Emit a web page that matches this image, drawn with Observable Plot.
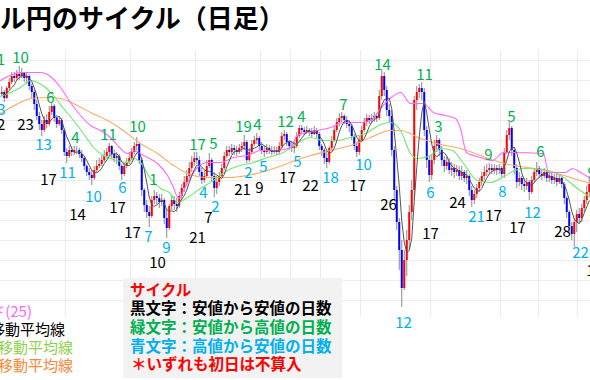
<!DOCTYPE html>
<html><head><meta charset="utf-8">
<script src="https://cdn.jsdelivr.net/npm/d3@7"></script>
<script src="https://cdn.jsdelivr.net/npm/@observablehq/plot@0.6"></script>
<style>
html,body{margin:0;padding:0;background:#fff;}
#wrap{position:relative;width:590px;height:380px;overflow:hidden;font-family:"Noto Sans CJK JP","Noto Sans",sans-serif;}
#wrap svg{position:absolute;left:0;top:0;}
.t{position:absolute;white-space:nowrap;line-height:1;}
</style></head><body><div id="wrap"></div>
<script>
// ---- data: daily candles (price in yen) ----
const firstOpen = 160.6;
const closes = [
160.8,160.2,161.2,161.8,162.4,162.2,162.6,162.4,162.7,162.2,
162.4,161.4,160.8,159.6,158.4,157.6,157.0,158.0,157.6,158.8,
159.4,158.2,157.6,158.0,157.0,154.8,154.4,155.0,154.8,155.0,
155.0,154.6,154.2,153.4,152.8,152.5,152.2,153.0,153.4,153.6,
154.0,154.4,154.8,155.4,154.6,154.2,154.4,153.4,152.6,153.4,
153.8,154.2,154.8,155.4,155.6,154.0,151.0,149.5,148.8,148.4,
150.0,150.4,150.2,149.8,150.0,148.2,147.2,149.4,150.0,149.6,
149.4,150.4,151.2,151.8,152.4,153.2,153.8,154.2,154.0,152.8,
152.0,152.4,153.4,154.0,152.4,151.2,151.8,152.4,153.2,154.4,
155.0,154.8,155.2,155.0,154.8,155.2,155.4,155.8,154.0,154.8,
155.6,156.0,156.2,155.4,155.0,154.8,155.2,155.0,154.8,155.0,
154.8,155.4,156.4,156.6,155.8,155.4,155.2,155.4,156.4,157.2,
157.0,156.8,157.0,156.8,156.6,157.0,156.6,155.4,155.0,154.2,
153.8,155.2,156.0,157.0,157.8,158.2,158.4,158.0,157.6,157.4,
156.4,155.4,154.8,156.0,157.0,157.8,158.2,158.0,158.2,158.4,
158.2,160.4,162.4,161.0,159.0,158.4,155.0,151.0,147.8,145.0,
141.2,144.0,146.0,148.8,151.0,160.0,160.8,161.2,160.8,157.0,
154.0,152.5,154.0,155.4,156.0,155.0,154.0,153.4,153.8,153.0,
153.2,152.8,153.0,152.4,152.8,152.2,152.4,151.0,150.0,150.6,
151.2,151.8,152.4,152.8,153.0,153.2,153.0,153.2,153.0,153.2,
152.6,154.8,156.5,157.2,155.0,153.2,151.8,152.2,151.6,151.4,
151.8,150.8,152.0,152.8,153.2,152.6,152.4,152.8,152.2,152.4,
152.0,152.2,151.8,152.2,151.6,150.2,148.8,147.4,146.6,147.8,
148.6,148.2,149.2,150.0,150.8,151.6];
const highs = [
161.4,161.0,161.4,162.2,162.8,162.8,163.0,163.4,163.2,162.8,
162.8,162.6,161.6,161.0,160.0,158.8,158.0,158.4,158.6,159.4,
159.7,159.6,158.5,158.4,158.2,157.2,155.2,155.4,155.4,155.4,
155.4,155.2,155.0,154.4,153.6,153.2,153.0,153.4,154.0,154.2,
154.5,155.0,155.2,155.7,155.5,155.0,154.8,154.6,153.6,153.8,
154.2,154.8,155.2,155.8,156.3,155.8,154.2,151.2,150.0,149.4,
150.4,151.0,150.8,150.6,150.6,150.2,149.0,149.6,150.4,150.4,
150.2,150.8,151.6,152.4,153.0,153.8,154.4,154.8,154.8,154.4,
153.2,153.0,154.0,154.7,154.2,152.8,152.4,152.8,153.6,154.8,
155.4,155.4,155.6,155.5,155.4,155.6,155.8,156.5,156.0,155.2,
156.0,156.4,156.7,156.4,155.8,155.4,155.6,155.5,155.4,155.4,
155.3,155.8,156.8,157.0,156.8,156.0,155.8,155.8,156.8,157.5,
157.5,157.3,157.4,157.2,157.2,157.4,157.2,156.8,155.6,155.2,
154.8,155.4,156.4,157.4,158.2,158.7,158.8,158.6,158.4,158.0,
157.6,156.6,155.8,156.4,157.4,158.2,158.6,158.5,158.6,158.8,
158.7,161.0,163.0,162.8,161.4,159.6,159.0,155.4,151.4,148.2,
146.0,145.0,147.0,149.5,152.0,160.4,161.4,161.6,161.8,161.2,
157.4,154.4,154.6,156.0,156.5,156.2,155.4,154.4,154.4,154.2,
153.8,153.6,153.5,153.4,153.4,153.0,153.0,152.6,151.4,151.0,
151.6,152.2,152.8,153.4,153.6,153.7,153.6,153.6,153.5,153.6,
153.4,155.2,157.0,157.8,157.4,155.2,153.6,152.8,152.4,152.2,
152.2,152.0,152.4,153.2,153.8,153.4,153.0,153.2,153.0,152.8,
152.8,152.6,152.6,152.6,152.4,151.8,150.4,149.0,147.8,148.2,
149.0,149.2,149.6,150.4,151.4,152.2];
const lows = [
160.4,159.8,160.1,161.0,161.6,161.8,162.0,162.0,162.2,161.8,
161.6,161.0,160.2,159.0,158.0,157.0,156.4,156.8,157.2,157.4,
158.5,157.8,157.2,157.4,156.6,154.4,153.7,154.2,154.4,154.5,
154.6,154.2,153.8,153.0,152.4,152.0,151.5,152.0,152.8,153.2,
153.4,153.8,154.2,154.4,154.2,153.8,153.6,153.0,152.0,152.4,
153.2,153.6,154.0,154.6,155.0,153.6,150.4,148.8,148.2,147.3,
148.2,149.6,149.6,149.2,149.4,147.6,146.2,147.0,149.0,149.0,
148.8,149.2,150.0,150.8,151.4,152.2,152.8,153.4,153.6,152.4,
151.6,151.7,152.2,153.2,151.8,150.3,150.6,151.4,152.2,153.0,
154.2,154.4,154.6,154.5,154.4,154.6,154.8,155.0,153.7,153.8,
154.6,155.4,155.6,155.0,154.6,154.3,154.6,154.6,154.5,154.6,
154.5,154.6,155.2,156.0,155.4,155.0,154.8,154.7,155.2,156.2,
156.6,156.5,156.6,156.4,156.3,156.5,156.2,155.0,154.4,153.6,
153.2,153.6,155.0,155.8,156.8,157.4,157.8,157.6,157.2,156.8,
156.0,155.0,154.3,154.5,155.8,156.8,157.4,157.6,157.7,157.8,
157.8,158.0,160.0,160.4,158.4,157.8,154.4,150.0,147.0,143.0,
139.3,141.0,142.4,145.0,148.0,150.0,159.0,160.2,160.0,156.4,
153.2,151.8,152.0,153.6,154.8,154.4,153.4,152.8,153.0,152.6,
152.4,152.2,152.4,152.0,152.0,151.8,151.6,150.4,149.3,149.6,
150.2,150.8,151.4,152.0,152.4,152.6,152.6,152.6,152.5,152.6,
152.2,152.2,154.6,156.0,154.4,152.6,151.2,151.4,151.0,150.8,
151.0,150.0,150.6,151.8,152.4,152.2,152.0,152.2,151.8,151.8,
151.6,151.6,151.4,151.6,151.2,149.6,148.2,146.8,146.0,145.3,
146.8,147.6,147.8,148.8,149.6,150.4];

// ---- indicator lines: [day, price] ----
const bandLine = [[-0.5,162.0],[7.5,162.8],[15.5,162.8],[19.5,162.4],[23.5,161.3],[27.5,159.8],[31.5,158.5],[35.5,157.5],[39.5,157.0],[43.5,156.3],[47.5,155.2],[50.3,154.7],[52.7,155.0],[56.7,154.5],[62.3,153.7],[66.3,152.5],[68.7,151.3],[70.7,150.2],[74.3,151.8],[78.3,153.3],[82.3,153.8],[87.5,153.8],[92.7,154.3],[98.3,154.5],[103.5,155.0],[110.3,155.0],[115.5,155.3],[118.3,156.5],[126.3,157.0],[131.5,157.3],[136.7,157.8],[143.5,157.8],[147.5,158.0],[151.5,159.2],[156.3,160.4],[159.5,160.8],[163.5,159.7],[168.7,159.7],[172.7,158.8],[177.5,158.5],[181.5,158.2],[183.5,157.2],[185.9,154.8],[191.5,154.3],[196.3,154.0],[200.7,154.8],[203.5,154.8],[216.7,154.7],[218.7,152.8],[225.5,152.8],[228.3,153.2],[231.5,152.8],[235.5,152.2]];
const ma25 = [[-0.5,160.4],[3.5,160.8],[7.5,161.3],[11.5,162.0],[14.3,161.8],[17.5,161.3],[20.7,160.5],[24.7,159.2],[28.7,158.0],[32.7,156.7],[36.7,155.3],[40.7,154.5],[46.3,154.0],[50.3,153.8],[52.7,154.2],[55.5,153.8],[59.5,152.2],[63.5,151.2],[67.5,150.7],[70.3,149.8],[74.3,150.3],[79.5,151.2],[84.7,152.0],[90.3,153.0],[95.5,153.5],[100.7,153.8],[106.3,154.3],[112.7,154.8],[116.3,155.4],[123.5,156.3],[128.7,156.0],[134.3,156.0],[139.5,156.3],[146.3,156.8],[151.5,157.6],[155.5,157.8],[159.5,157.0],[163.5,154.7],[166.3,154.2],[171.5,154.5],[175.5,155.2],[180.3,155.0],[184.7,153.7],[190.3,152.0],[195.5,151.8],[199.5,152.2],[203.5,152.8],[208.7,153.2],[216.7,153.1],[223.5,152.5],[230.3,151.2],[235.5,150.3]];
const ma75 = [[-0.5,158.7],[3.5,159.3],[7.5,159.8],[11.5,160.2],[19.5,160.3],[23.5,160.2],[28.7,159.7],[35.5,158.8],[42.3,158.0],[47.5,157.2],[55.5,155.7],[62.3,154.7],[68.7,153.5],[74.3,152.7],[82.3,152.3],[90.3,152.3],[98.3,152.5],[106.3,153.0],[114.3,153.7],[123.5,154.5],[131.5,155.0],[139.5,155.5],[147.5,156.3],[155.5,157.0],[159.5,157.0],[167.5,156.2],[175.5,155.6],[183.5,155.2],[191.5,154.5],[199.5,153.8],[207.5,153.4],[215.5,153.1],[223.5,152.6],[231.5,152.0],[235.5,151.7]];

// ---- cycle labels: [text, day, price] ----
const greenLabels = [["11",-2.0,164.0],["10",7.5,164.2],["6",19.5,160.2],["4",29.5,156.2],["11",42.7,156.5],["10",54.3,157.3],["1",60.7,152.0],["17",78.3,155.5],["5",84.7,155.6],["19",96.7,157.3],["4",102.3,157.5],["12",113.5,157.8],["4",119.9,158.3],["7",136.7,159.5],["14",152.3,163.5],["11",169.1,162.5],["3",174.7,157.3],["9",194.7,154.5],["5",203.9,158.3],["6",215.5,154.8],["9",236.0,152.7]];
const blueLabels = [["3",-0.1,159.0],["13",16.7,155.5],["11",26.3,152.7],["10",36.7,150.3],["6",48.3,151.2],["7",58.7,146.3],["9",65.9,145.2],["4",80.7,150.7],["2",85.5,149.3],["2",98.7,152.7],["5",104.7,153.3],["5",118.3,153.8],["18",131.5,152.2],["10",144.7,153.5],["12",160.7,137.7],["6",171.5,150.7],["21",189.9,148.3],["8",200.3,150.8],["12",212.3,148.7],["22",231.5,144.7]];
const blackLabels = [["12",-1.9,157.5],["23",9.5,157.5],["17",18.7,152.0],["14",30.3,148.5],["17",46.3,149.2],["17",52.3,146.7],["10",62.3,143.7],["21",78.3,146.2],["7",82.7,148.2],["21",96.3,151.0],["9",103.1,151.2],["17",114.3,152.2],["22",123.5,151.4],["17",142.3,151.4],["26",154.7,149.5],["17",171.5,146.6],["24",182.3,149.7],["17",196.7,148.4],["17",206.3,147.2],["28",224.3,146.8],["17",237.1,142.9]];

// ---- grid ----
const gridPrices = [164,162,160,158,156,154,152,150,148,146,144,142,140];
const gridDays = [25.5,51.5,77.5,103.5,115.5,127.5,143.5,171.5,199.5,214.7,230.3];

// ---- texts ----
const titleText = "ドル円のサイクル（日足）";
const maLegend = ["ボリンジャーバンド(25)","5日移動平均線","25日移動平均線","75日移動平均線"];
const cycleTitle = "サイクル";
const cycleLines = ["黒文字：安値から安値の日数","緑文字：安値から高値の日数","青文字：高値から安値の日数","＊いずれも初日は不算入"];

// ---- build ----
const candles = closes.map((c, i) => ({day: i, open: i ? closes[i-1] : firstOpen, high: highs[i], low: lows[i], close: c}));
const ma5 = candles.map((d, i) => ({day: i, price: d3.mean(closes.slice(Math.max(0, i - 4), i + 1))}));
const pts = arr => arr.map(([day, price]) => ({day, price}));
const lab = arr => arr.map(([text, day, price]) => ({text, day, price}));
const font = '"Noto Sans CJK JP", sans-serif';

const chart = Plot.plot({
  width: 590, height: 380,
  marginTop: 0, marginBottom: 0, marginLeft: 0, marginRight: 0,
  x: {type: "linear", domain: [-0.5, 235.5], axis: null},
  y: {domain: [132, 170], axis: null},
  style: {background: "transparent"},
  marks: [
    Plot.ruleY(gridPrices, {stroke: "#ececec", strokeWidth: 1}),
    Plot.ruleX(gridDays, {y1: 138.3, y2: 165, stroke: "#ececec", strokeWidth: 1}),
    Plot.ruleX(candles, {x: "day", y1: "low", y2: "high", stroke: "#8a8a8a", strokeWidth: 1}),
    Plot.ruleX(candles, {x: "day", y1: "open", y2: "close", stroke: d => d.close >= d.open ? "#ff0000" : "#0000ff", strokeWidth: 2}),
    Plot.line(pts(ma75), {x: "day", y: "price", stroke: "#fbab62", strokeWidth: 1.1, curve: "monotone-x"}),
    Plot.line(pts(ma25), {x: "day", y: "price", stroke: "#6ee86e", strokeWidth: 1.1, curve: "monotone-x"}),
    Plot.line(pts(bandLine), {x: "day", y: "price", stroke: "#ff66ff", strokeWidth: 1.1, curve: "monotone-x"}),
    Plot.line(ma5, {x: "day", y: "price", stroke: "#555555", strokeWidth: 1}),
    Plot.text(lab(greenLabels), {x: "day", y: "price", text: "text", fill: "#00b050", fontSize: 15, fontFamily: font}),
    Plot.text(lab(blueLabels), {x: "day", y: "price", text: "text", fill: "#00b0f0", fontSize: 15, fontFamily: font}),
    Plot.text(lab(blackLabels), {x: "day", y: "price", text: "text", fill: "#000000", fontSize: 15, fontFamily: font})
  ]
});

const wrap = document.getElementById("wrap");
wrap.appendChild(chart);

function addText(txt, css) {
  const d = document.createElement("div");
  d.className = "t";
  d.textContent = txt;
  Object.assign(d.style, css);
  wrap.appendChild(d);
  return d;
}
addText(titleText, {left: "-26px", top: "4px", fontSize: "26px", fontWeight: "700", color: "#000"});

const legendStyle = [
  {right: "558px", top: "303px", color: "#ff66ff"},
  {right: "525px", top: "321px", color: "#000000"},
  {right: "517px", top: "339px", color: "#8fd14f"},
  {right: "517px", top: "357px", color: "#f7883a"}
];
maLegend.forEach((t, k) => addText(t, Object.assign({fontSize: "15px", textAlign: "right"}, legendStyle[k])));

const box = document.createElement("div");
Object.assign(box.style, {position: "absolute", left: "123px", top: "278px", width: "219px", height: "100px", background: "#f2f2f2"});
wrap.appendChild(box);
const lineColors = ["#000000", "#00b050", "#00b0f0", "#ff0000"];
addText(cycleTitle, {left: "130px", top: "282px", fontSize: "15.5px", fontWeight: "700", color: "#ff0000"});
cycleLines.forEach((t, k) => addText(t, {left: k === 3 ? "131px" : "130px", top: (300 + 18.8 * k) + "px", fontSize: "15.5px", fontWeight: "700", color: lineColors[k]}));
</script>
</body></html>
